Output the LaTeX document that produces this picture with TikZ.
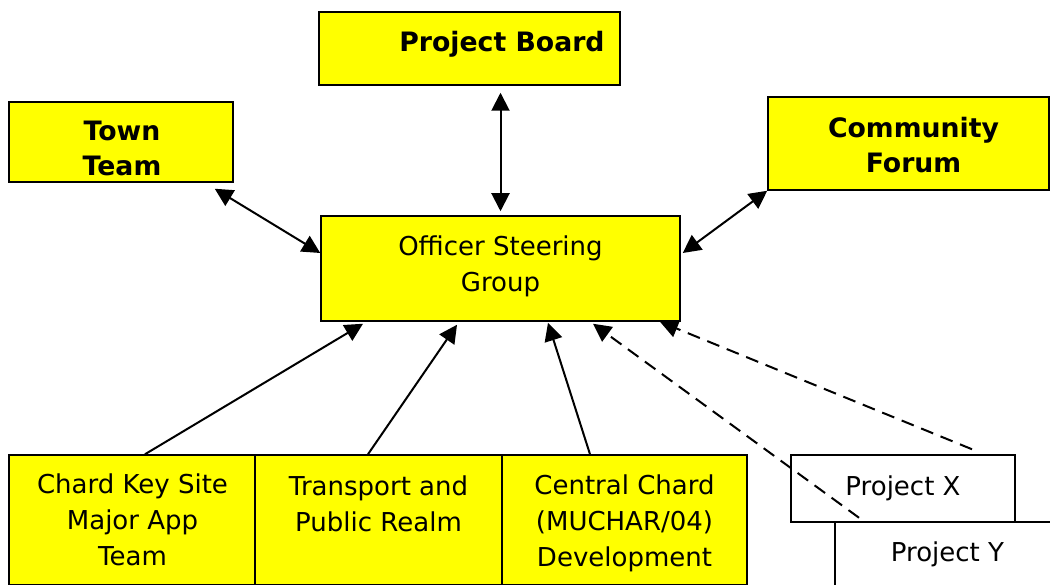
\documentclass[tikz,border=0pt]{standalone}
\usepackage{fontspec}
\setmainfont{DejaVu Sans}
\usetikzlibrary{arrows.meta}
\definecolor{boxyellow}{HTML}{FFFF00}
\tikzset{
  ybox/.style={draw=black, line width=1.5pt, fill=boxyellow, inner sep=0pt},
  wbox/.style={draw=black, line width=1.5pt, fill=white, inner sep=0pt},
  txt/.style={inner sep=0pt, align=center, font=\fontsize{26}{36}\selectfont},
  bold/.style={inner sep=0pt, align=center, font=\fontsize{26.7}{35}\selectfont\bfseries},
  conn/.style={line width=2pt, -{Triangle[length=18pt,width=18pt]}},
  dconn/.style={conn, dash pattern=on 13pt off 8pt},
  both/.style={line width=2pt, {Triangle[length=18pt,width=18pt]}-{Triangle[length=18pt,width=18pt]}}
}
\begin{document}
\begin{tikzpicture}[x=1pt,y=-1pt]
\useasboundingbox (0,0) rectangle (1050,585);
\clip (0,0) rectangle (1050,585);
\fill[white] (0,0) rectangle (1050,585);
% boxes
\node[ybox, minimum width=301pt, minimum height=73pt] (pb) at (469.5,48.5) {};
\node[ybox, minimum width=224pt, minimum height=80pt] (tt) at (121,142) {};
\node[ybox, minimum width=281pt, minimum height=93pt] (cf) at (908.5,143.5) {};
\node[ybox, minimum width=359pt, minimum height=105pt] (osg) at (500.5,268.5) {};
\node[ybox, minimum width=247pt, minimum height=130pt] (ck) at (132.5,520) {};
\node[ybox, minimum width=247pt, minimum height=130pt] (tp) at (378.5,520) {};
\node[ybox, minimum width=245pt, minimum height=130pt] (cc) at (624.5,520) {};
\node[wbox, minimum width=225pt, minimum height=68pt] (py) at (947.5,556) {};
\node[wbox, minimum width=224pt, minimum height=67pt] (px) at (903,488.5) {};
% texts
\node[bold] (pbt) at ([xshift=32.5pt,yshift=4pt]pb.center) {Project Board};
\node[bold] (ttt) at ([xshift=1pt,yshift=-6pt]tt.center) {Town\\Team};
\node[bold] (cft) at ([xshift=5pt,yshift=-2pt]cf.center) {Community\\Forum};
\node[txt] (osgt) at ([yshift=2pt]osg.center) {Officer Steering\\Group};
\node[txt] (ckt) at (ck.center) {Chard Key Site\\Major App\\Team};
\node[txt] (tpt) at ([yshift=16.5pt]tp.center) {Transport and\\Public Realm};
\node[txt] (cct) at ([yshift=-3pt]cc.center) {Central Chard\\(MUCHAR/04)\\Development};
\node[txt] (pxt) at (px.center) {Project X};
\node[txt] (pyt) at ([yshift=2pt]py.center) {Project Y};
% connectors
\draw[both] ([xshift=31pt,yshift=-7pt]pb.south) -- ([xshift=31pt,yshift=4pt]pb.south |- osg.north);
\draw[both] ([xshift=-19pt,yshift=-6pt]tt.south east) -- ([yshift=15.5pt]osg.west);
\draw[both] (cf.south west) -- ([xshift=2pt,yshift=15.5pt]osg.east);
\draw[conn] ([xshift=12.5pt]ck.north) -- ([xshift=-137.5pt,yshift=-2pt]osg.south);
\draw[conn] ([xshift=-10.5pt]tp.north) -- ([xshift=-43.5pt,yshift=-3pt]osg.south);
\draw[conn] ([xshift=-34.5pt]cc.north) -- ([xshift=47.5pt,yshift=-1pt]osg.south);
\draw[dconn] ([xshift=69pt,yshift=5pt]px.north) -- ([xshift=159.5pt]osg.south);
\draw[dconn] ([xshift=-44pt,yshift=5pt]px.south) -- ([xshift=92.5pt,yshift=-2pt]osg.south);
\end{tikzpicture}
\end{document}
